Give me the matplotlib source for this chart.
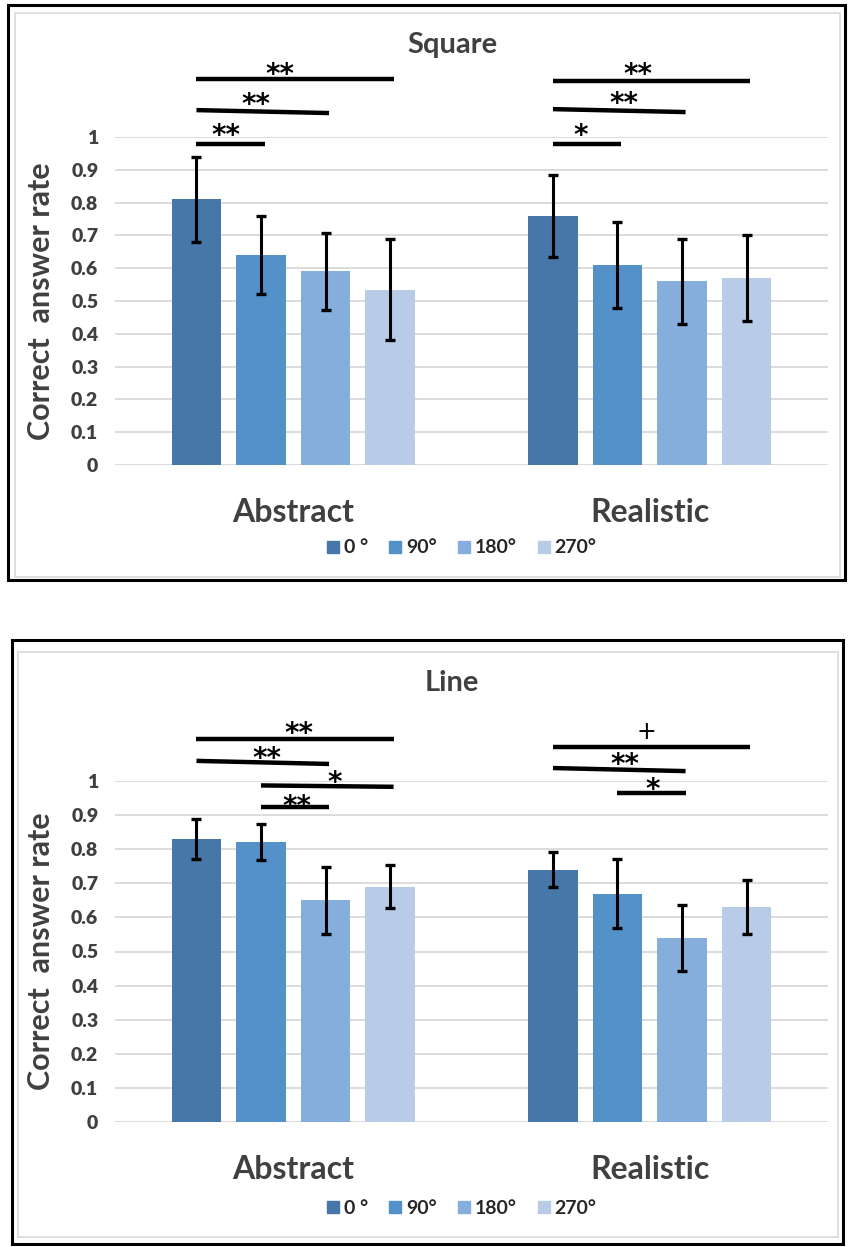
import matplotlib
matplotlib.use("Agg")
import matplotlib.pyplot as plt
import numpy as np
from matplotlib.patches import Rectangle
from matplotlib.lines import Line2D

plt.rcParams['font.family'] = ['Lato', 'DejaVu Sans']

# data
groups = ['Abstract', 'Realistic']
angles = ['0 °', '90°', '180°', '270°']
colors = ['#4677A8', '#5491C8', '#85AEDC', '#B8CCE8']

square_abs = [0.81, 0.64, 0.59, 0.535]
square_abs_err = [0.13, 0.12, 0.117, 0.155]
square_real = [0.76, 0.61, 0.56, 0.57]
square_real_err = [0.125, 0.13, 0.13, 0.13]

line_abs = [0.83, 0.82, 0.65, 0.69]
line_abs_err = [0.06, 0.053, 0.098, 0.063]
line_real = [0.74, 0.67, 0.54, 0.63]
line_real_err = [0.052, 0.10, 0.097, 0.08]

# significance brackets: (group, from bar, to bar, height left, height right)
square_sig = [(0, 0, 3, 1.177, 1.177), (0, 0, 2, 1.082, 1.073), (0, 0, 1, 0.979, 0.979),
              (1, 0, 3, 1.171, 1.171), (1, 0, 2, 1.085, 1.076), (1, 0, 1, 0.979, 0.979)]
# labels: (text, x, y) in data units
square_marks = [('**', -0.036, 1.19), ('**', -0.106, 1.097), ('**', -0.19, 1.002),
                ('**', 0.966, 1.19), ('**', 0.927, 1.10), ('*', 0.807, 1.002)]

line_sig = [(0, 0, 3, 1.123, 1.123), (0, 0, 2, 1.059, 1.050), (0, 1, 3, 0.987, 0.983),
            (0, 1, 2, 0.924, 0.924),
            (1, 0, 3, 1.100, 1.100), (1, 0, 2, 1.038, 1.029), (1, 1, 2, 0.965, 0.965)]
line_marks = [('**', 0.017, 1.138), ('**', -0.073, 1.065), ('*', 0.115, 0.995), ('**', 0.011, 0.924),
              ('+', 0.99, 1.144), ('**', 0.93, 1.047), ('*', 1.008, 0.974)]

W, H = 849, 1247
fig = plt.figure(figsize=(W / 100, H / 100), dpi=100)

TXT = '#404040'
width = 0.14
step = 0.181
offs = (np.arange(4) - 1.5) * step


def box(x0, y0, x1, y1, col, lw):
    fig.add_artist(Rectangle((x0 / W, 1 - y1 / H), (x1 - x0) / W, (y1 - y0) / H,
                             transform=fig.transFigure, fill=False, ec=col, lw=lw))


def panel(y_top, y_zero, title, title_y, vals, errs, sig, marks, cat_y, leg_y):
    ax = fig.add_axes([115 / W, 1 - y_zero / H, (828 - 115) / W, (y_zero - y_top) / H])
    x = np.arange(len(groups))
    for i in range(4):
        v = [vals[0][i], vals[1][i]]
        e = [errs[0][i], errs[1][i]]
        ax.bar(x + offs[i], v, width, color=colors[i], label=angles[i], zorder=2)
        ax.errorbar(x + offs[i], v, yerr=e, fmt='none', ecolor='black',
                    elinewidth=2.2, capsize=3.5, capthick=2.4, zorder=3)
    for g, a, b, h0, h1 in sig:
        ax.plot([g + offs[a], g + offs[b] + 0.01], [h0, h1], color='black',
                lw=3.2, solid_capstyle='butt', clip_on=False, zorder=4)
    for t, tx, ty in marks:
        ax.text(tx, ty, t, ha='center', va='center', fontsize=20 if t != '+' else 17,
                fontweight='bold' if t != '+' else 'normal', color='black',
                family='DejaVu Sans', clip_on=False)
    ax.set_xlim(-0.5, 1.5)
    ax.set_ylim(0, 1)
    ax.set_yticks(np.arange(0, 1.01, 0.1))
    ax.set_yticklabels(['0', '0.1', '0.2', '0.3', '0.4', '0.5', '0.6', '0.7', '0.8', '0.9', '1'],
                       fontsize=14, fontweight='heavy', color=TXT)
    ax.set_xticks(x)
    ax.set_xticklabels(groups, fontsize=23, color=TXT, fontweight='bold')
    ax.tick_params(axis='both', length=0)
    ax.tick_params(axis='y', pad=12)
    ax.tick_params(axis='x', pad=(cat_y - y_zero - 17) * 0.72)
    ax.grid(axis='y', color='#D9D9D9', lw=1.3, zorder=0)
    ax.set_axisbelow(True)
    for s in ax.spines.values():
        s.set_visible(False)
    ax.set_ylabel('Correct  answer rate', fontsize=22, color=TXT, fontweight='bold')
    ax.yaxis.set_label_coords((55 - 115) / (828 - 115), 0.5)
    fig.text(452 / W, 1 - title_y / H, title, ha='center', va='center', fontsize=21,
             fontweight='bold', color=TXT)
    handles = [Line2D([], [], marker='s', ls='none', markersize=8.5, color=c, mec=c) for c in colors]
    leg = fig.legend(handles, angles, loc='center', bbox_to_anchor=(460 / W, 1 - leg_y / H), ncol=4,
                     frameon=False, handletextpad=0.05, columnspacing=0.9, handlelength=1.0,
                     prop={'weight': 'bold', 'size': 14})
    for txt in leg.get_texts():
        txt.set_color('#262626')
    return ax


panel(137, 465, 'Square', 45, [square_abs, square_real], [square_abs_err, square_real_err],
      square_sig, square_marks, 515, 548)
panel(781, 1122, 'Line', 683, [line_abs, line_real], [line_abs_err, line_real_err],
      line_sig, line_marks, 1172, 1208)

# panel frames
box(8, 5, 845, 580, 'black', 2.2)
box(15, 13, 840, 577, '#D9D9D9', 1.2)
box(12, 640, 843, 1244, 'black', 2.2)
box(18, 652, 838, 1237, '#D9D9D9', 1.2)

fig.savefig('out.png', dpi=100)
